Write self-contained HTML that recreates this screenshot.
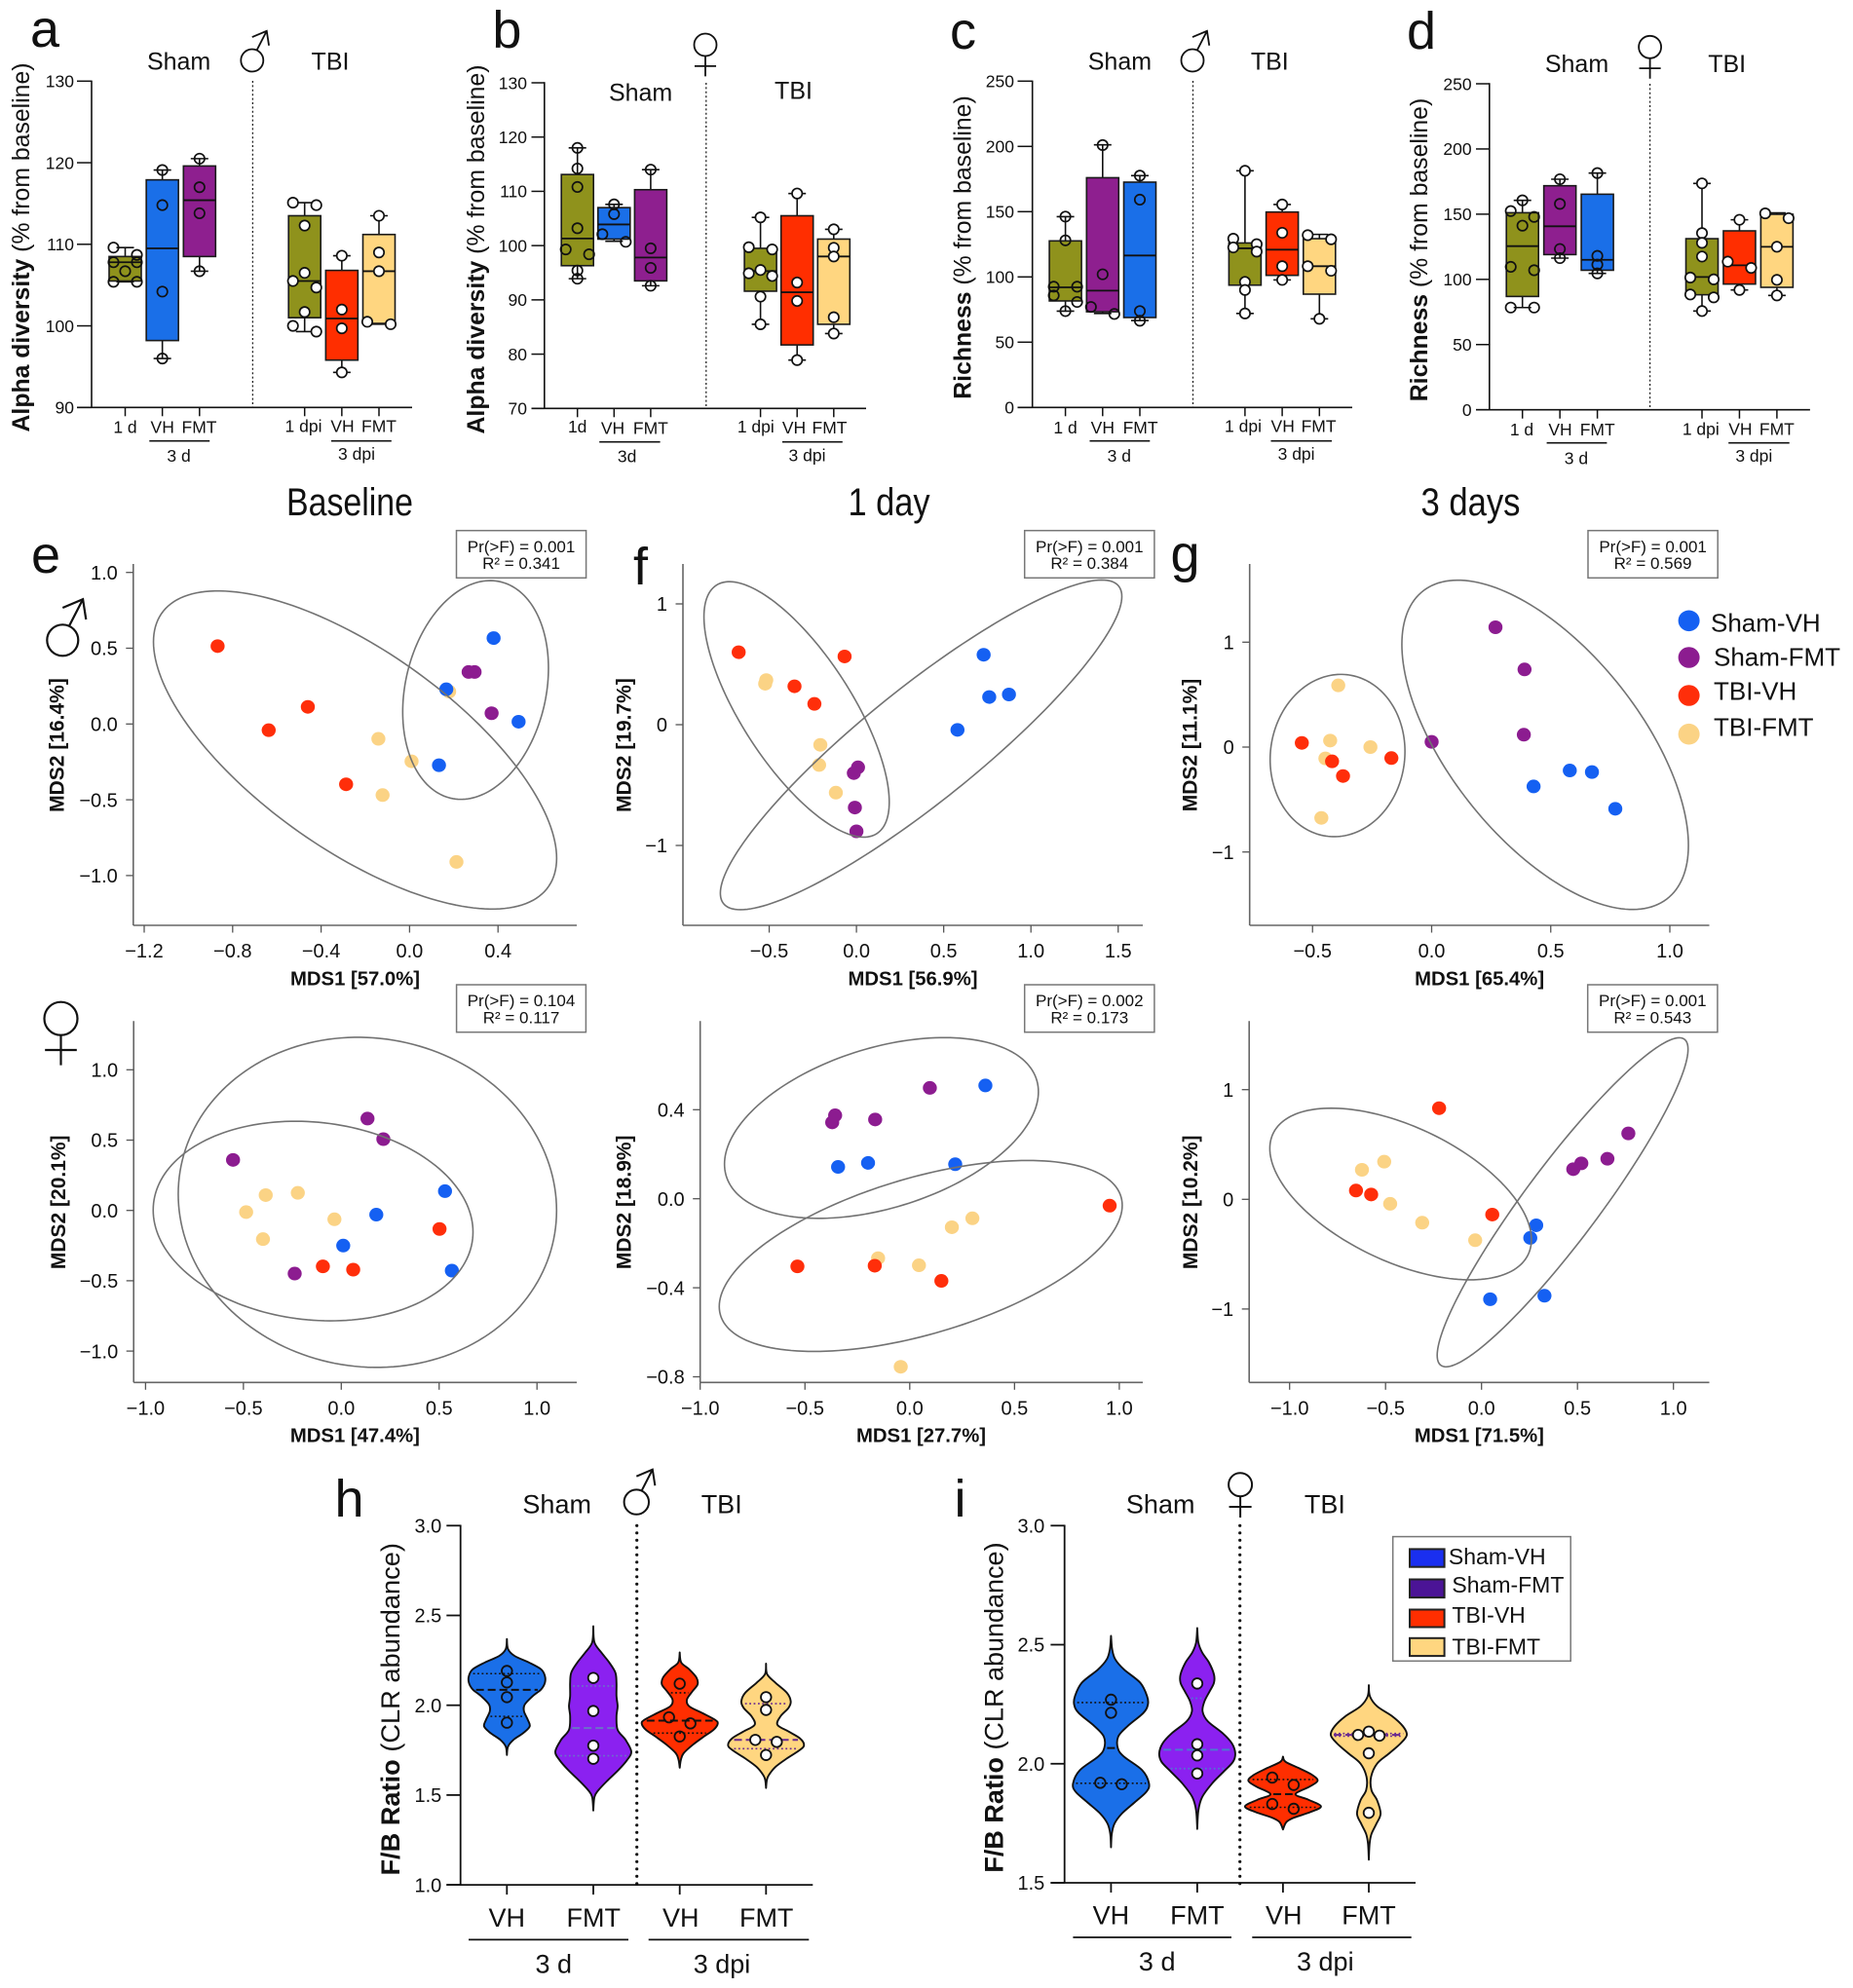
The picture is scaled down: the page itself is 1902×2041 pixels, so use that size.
<!DOCTYPE html>
<html lang="en">
<head>
<meta charset="utf-8">
<title>Alpha diversity, richness, ordination and F/B ratio panels</title>
<style>
html,body{margin:0;padding:0;background:#fff;}
svg{display:block;font-family:"Liberation Sans",sans-serif;}
</style>
</head>
<body>
<svg id="figure" xmlns="http://www.w3.org/2000/svg" width="1902" height="2041" viewBox="0 0 1902 2041"></svg>
<script>
/* ---------- panel a : alpha diversity, male ---------- */
const aCategories=['1 d','VH','FMT','1 dpi','VH','FMT'];
const aTicks=[90,100,110,120,130];
const aQ3=[108.5,117.9,119.6,113.5,106.8,111.2];
const aQ1=[105.5,98.2,108.5,101,95.8,100.3];
const aMedian=[107.8,109.5,115.4,105.5,100.9,106.7];
const aHigh=[109.6,119.1,120.5,115.1,108.6,113.5];
const aLow=[105.4,96,106.7,99.3,94.3,100.2];
const aPoints=[[109.6,108.7,107.8,107.8,106.7,105.4,105.4],[119.1,114.8,104.2,96],[120.5,117,113.8,106.7],[115.1,114.8,112.3,106.5,105.5,104.7,101.7,100,99.3],[108.6,102,99.7,94.3],[113.5,109,106.7,100.5,100.2]];
/* ---------- panel b : alpha diversity, female ---------- */
const bCategories=['1d','VH','FMT','1 dpi','VH','FMT'];
const bTicks=[70,80,90,100,110,120,130];
const bQ3=[113.1,107,110.3,99.5,105.5,101.2];
const bQ1=[96.3,101.2,93.5,91.6,81.7,85.5];
const bMedian=[101.3,103.9,97.8,95.3,91.4,98];
const bHigh=[118,107.6,114,105.2,109.6,103];
const bLow=[93.9,100.8,92.6,85.5,78.9,83.8];
const bPoints=[[118,114.2,110.8,103.2,99.3,98.4,95.4,93.9],[107.6,105.8,102.1,100.7],[114,99.5,95.9,92.6],[105.2,99.7,99.3,95.5,94.9,94.4,90.6,85.5],[109.6,93.2,89.8,78.9],[103,99.6,98,86.8,83.8]];
/* ---------- panel c : richness, male ---------- */
const cCategories=['1 d','VH','FMT','1 dpi','VH','FMT'];
const cTicks=[0,50,100,150,200,250];
const cQ3=[127.6,176,172.6,126,149.7,129.3];
const cQ1=[81.6,73.3,68.9,93.7,101.2,86.8];
const cMedian=[92,89.5,116.4,121.9,120.9,108.2];
const cHigh=[146.2,201.2,177.6,181.3,155.5,132.6];
const cLow=[73.8,72,66.6,72,97.7,67.9];
const cPoints=[[146.2,128,92.5,92.5,85.8,80.8,73.8],[201,102,77,71.6],[177.6,159.2,73.8,66.4],[181.3,129.3,125.1,122.6,119.4,96.2,90,72],[155.5,133.8,108.2,97.7],[132,128.8,108.2,104.7,67.9]];
/* ---------- panel d : richness, female ---------- */
const dCategories=['1 d','VH','FMT','1 dpi','VH','FMT'];
const dTicks=[0,50,100,150,200,250];
const dQ3=[151.1,171.8,165.3,131.2,137.2,149.9];
const dQ1=[86.9,119,107,88.2,96.4,93.9];
const dMedian=[125.5,140.7,115,101.8,110.8,125];
const dHigh=[160.6,176.8,181.5,173.6,145.7,151];
const dLow=[78.4,116.3,104.6,75.7,91.9,87.7];
const dPoints=[[160.6,152.4,147.9,141.2,109.6,107,78.4,78.4],[176.8,157.9,123.3,116.3],[181.5,118,111.3,104.6],[173.6,135.5,128,117.5,101.4,100,88.4,86.2,75.7],[145.7,113.6,108.8,91.9],[150.6,146.9,125,99.6,87.7]];

/* ---------- ordination panels : points are [MDS1, MDS2] ---------- */
const eXTicks=['−1.2','−0.8','−0.4','0.0','0.4'];
const eYTicks=['−1.0','−0.5','0.0','0.5','1.0'];
const eShamVH=[[.38,.567],[.166,.229],[.493,.015],[.133,-.272]];
const eShamFMT=[[.267,.343],[.294,.343],[.371,.071]];
const eTbiVH=[[-.868,.514],[-.46,.113],[-.637,-.041],[-.287,-.398]];
const eTbiFMT=[[-.141,-.098],[.009,-.246],[-.122,-.469],[.212,-.91],[.179,.214]];
const eEllipses=[[-1.158,.665,-1.221,.878,-.68],[-.031,.628,-.497,.946,.2]];

const fXTicks=['−0.5','0.0','0.5','1.0','1.5'];
const fYTicks=['−1','0','1'];
const fShamVH=[[.729,.579],[.761,.229],[.874,.25],[.579,-.043]];
const fShamFMT=[[.009,-.353],[-.015,-.401],[-.009,-.686],[0,-.883]];
const fTbiVH=[[-.675,.6],[-.068,.565],[-.355,.318],[-.241,.172]];
const fTbiFMT=[[-.517,.369],[-.523,.339],[-.207,-.167],[-.214,-.334],[-.118,-.563]];
const fEllipses=[[-.874,.188,-.931,1.184,-.725],[-.78,1.521,-1.532,1.198,.9]];

const gXTicks=['−0.5','0.0','0.5','1.0'];
const gYTicks=['−1','0','1'];
const gShamVH=[[.58,-.223],[.673,-.238],[.428,-.375],[.771,-.588]];
const gShamFMT=[[.268,1.142],[.39,.74],[.387,.118],[0,.05]];
const gTbiVH=[[-.545,.04],[-.418,-.136],[-.372,-.276],[-.169,-.105]];
const gTbiFMT=[[-.392,.588],[-.426,.062],[-.446,-.108],[-.257,0],[-.463,-.675]];
const gEllipses=[[-.678,-.112,-.854,.693,.05],[-.125,1.078,-1.548,1.591,-.61]];

const e2XTicks=['−1.0','−0.5','0.0','0.5','1.0'];
const e2YTicks=['−1.0','−0.5','0.0','0.5','1.0'];
const e2ShamVH=[[.53,.137],[.179,-.03],[.01,-.25],[.565,-.428]];
const e2ShamFMT=[[.134,.653],[.215,.507],[-.553,.359],[-.238,-.449]];
const e2TbiVH=[[.502,-.132],[-.094,-.398],[.061,-.421]];
const e2TbiFMT=[[-.386,.109],[-.222,.125],[-.486,-.012],[-.035,-.063],[-.4,-.204]];
const e2Ellipses=[[-.833,1.1,-1.116,1.231,-.05],[-.961,.673,-.785,.634,-.11]];

const f2XTicks=['−1.0','−0.5','0.0','0.5','1.0'];
const f2YTicks=['−0.8','−0.4','0.0','0.4'];
const f2ShamVH=[[.361,.509],[-.199,.161],[-.342,.143],[.217,.155]];
const f2ShamFMT=[[.096,.498],[-.356,.375],[-.37,.343],[-.165,.356]];
const f2TbiVH=[[.954,-.031],[-.536,-.304],[-.167,-.301],[.151,-.369]];
const f2TbiFMT=[[.299,-.088],[.201,-.128],[-.151,-.267],[.044,-.299],[-.043,-.755]];
const f2Ellipses=[[-.884,.614,-.088,.724,.4],[-.909,1.014,-.686,.172,.53]];

const g2XTicks=['−1.0','−0.5','0.0','0.5','1.0'];
const g2YTicks=['−1','0','1'];
const g2ShamVH=[[.285,-.237],[.254,-.352],[.045,-.911],[.328,-.879]];
const g2ShamFMT=[[.765,.601],[.656,.37],[.52,.328],[.478,.275]];
const g2TbiVH=[[-.221,.831],[-.654,.08],[-.575,.044],[.056,-.139]];
const g2TbiFMT=[[-.507,.343],[-.623,.269],[-.476,-.041],[-.309,-.213],[-.033,-.373]];
const g2Ellipses=[[-1.103,.26,-.734,.831,-.53],[-.231,1.076,-1.527,1.473,.93]];

/* ---------- panel h : violins ---------- */
const hCategories=['VH','FMT','VH','FMT'];
const hTicks=['1.0','1.5','2.0','2.5','3.0'];
const hLevels=[
 [2.369,2.313,2.275,2.238,2.2,2.163,2.125,2.088,2.051,2.004,1.966,1.919,1.882,1.845,1.807,1.77,1.723],
 [2.44,2.35,2.294,2.238,2.182,2.125,2.051,1.994,1.938,1.863,1.807,1.742,1.695,1.639,1.582,1.526,1.489,1.414],
 [2.294,2.238,2.2,2.154,2.116,2.079,2.032,1.994,1.957,1.919,1.897,1.863,1.826,1.779,1.732,1.695,1.652],
 [2.232,2.172,2.125,2.069,2.022,1.985,1.938,1.891,1.854,1.816,1.779,1.751,1.704,1.657,1.61,1.582,1.539]];
const hDensity=[
 [0,.03,.2,.58,.9,1,1,.9,.68,.47,.45,.55,.6,.43,.17,.03,0],
 [0,.03,.21,.42,.58,.61,.61,.64,.61,.64,.85,1,.89,.66,.38,.13,.03,0],
 [0,.04,.25,.44,.47,.34,.19,.25,.59,.93,1,.89,.64,.34,.1,.03,0],
 [0,.03,.25,.55,.65,.59,.38,.3,.59,.89,1,.89,.55,.25,.07,.02,0]];
const hMedian=[2.086,1.873,1.914,1.807];
const hQuartiles=[[2.176,1.938],[2.107,1.719],[2.069,1.845],[2.009,1.758]];
const hPoints=[[2.191,2.127,2.045,1.903],[2.152,1.968,1.775,1.702],[2.12,1.933,1.899,1.826],[2.045,1.974,1.807,1.796,1.723]];

/* ---------- panel i : violins ---------- */
const iCategories=['VH','FMT','VH','FMT'];
const iTicks=['1.5','2.0','2.5','3.0'];
const iLevels=[
 [2.537,2.481,2.439,2.396,2.34,2.283,2.248,2.213,2.157,2.114,2.065,2.03,1.973,1.917,1.882,1.839,1.79,1.748,1.705,1.649],
 [2.57,2.509,2.467,2.425,2.375,2.34,2.305,2.262,2.22,2.178,2.128,2.086,2.044,2.008,1.966,1.917,1.86,1.804,1.726],
 [2.03,2.008,1.98,1.952,1.928,1.903,1.872,1.849,1.821,1.797,1.773,1.755,1.724],
 [2.33,2.283,2.241,2.199,2.157,2.121,2.086,2.044,2.001,1.945,1.889,1.846,1.79,1.748,1.705,1.663,1.597]];
const iDensity=[
 [0,.03,.11,.34,.77,.95,.97,.85,.43,.19,.18,.34,.82,1,.93,.63,.28,.09,.02,0],
 [0,.03,.13,.31,.44,.44,.33,.19,.14,.28,.67,.91,1,.94,.69,.39,.13,.03,0],
 [0,.07,.44,.78,.91,.69,.33,.67,1,.72,.28,.09,0],
 [0,.03,.22,.62,.9,1,.84,.54,.22,.06,.07,.22,.31,.2,.07,.02,0]];
const iMedian=[2.066,2.059,1.872,2.121];
const iQuartiles=[[2.257,1.918],[2.275,1.98],[1.934,1.817],[2.127,2.116]];
const iPoints=[[2.269,2.214,1.92,1.914],[2.337,2.082,2.035,1.959],[1.942,1.911,1.831,1.811],[2.135,2.121,2.118,2.044,1.794]];

const legendNames=['Sham-VH','Sham-FMT','TBI-VH','TBI-FMT'];

/* ---------- helpers ---------- */
const NS='http://www.w3.org/2000/svg';
const root=document.getElementById('figure');
const OLIVE='#8f921c',BLUE='#1a6fe8',PURPLE='#8e1f8f',RED='#ff2e00',YELLOW='#ffd680',INK='#111';
function linear(v0,p0,v1,p1){const k=(p1-p0)/(v1-v0);return v=>p0+(v-v0)*k;}
function toNumber(label){return parseFloat(String(label).replace('−','-'));}
function mk(parent,tag,name,attrs){
  const e=document.createElementNS(NS,tag);
  for(const k in attrs)e.setAttribute(k,attrs[k]);
  
  
  parent.appendChild(e);
  return e;
}
function line(parent,name,x1,y1,x2,y2,stroke,w,extra){
  return mk(parent,'line',name,Object.assign({x1,y1,x2,y2,stroke,'stroke-width':w},extra||{}));
}
/* y is the vertical centre of capitals unless opts.base is set */
function text(parent,name,x,y,s,fs,opts){
  opts=opts||{};
  const by=opts.base?y:y+fs*.358;
  const a={x,y:by,'font-size':fs,'text-anchor':opts.anchor||'middle',fill:opts.fill||'#111'};
  if(opts.bold)a['font-weight']='bold';
  if(opts.len){a.textLength=opts.len;a.lengthAdjust='spacingAndGlyphs';}
  const t=mk(parent,'text',name,a);
  t.textContent=s;
  return t;
}
function rotatedLabel(parent,name,cx,cy,bold,rest,fs){
  const t=mk(parent,'text',name,{transform:`translate(${cx} ${cy}) rotate(-90)`,'text-anchor':'middle','font-size':fs,fill:'#111',y:fs*.358});
  const b=mk(t,'tspan',name+'-bold-part',{'font-weight':'bold'});
  b.textContent=bold;
  const r=mk(t,'tspan',name+'-regular-part',{});
  r.textContent=rest;
  return t;
}
function male(parent,name,cx,cy,r,w){
  const g=mk(parent,'g',name,{fill:'none',stroke:'#111','stroke-width':w||1.8,'stroke-linejoin':'miter'});
  mk(g,'circle',name+'-ring',{cx,cy,r,fill:'#fff'});
  mk(g,'path',name+'-arrow',{d:`M${cx+.42*r} ${cy-.92*r}L${cx+1.3*r} ${cy-2.63*r}M${cx} ${cy-2.08*r}L${cx+1.3*r} ${cy-2.63*r}L${cx+1.5*r} ${cy-1.33*r}`});
}
function female(parent,name,cx,cy,r,w){
  const g=mk(parent,'g',name,{fill:'none',stroke:'#111','stroke-width':w||1.8});
  mk(g,'circle',name+'-ring',{cx,cy,r,fill:'#fff'});
  mk(g,'path',name+'-cross',{d:`M${cx} ${cy+r}V${cy+2.82*r}M${cx-.96*r} ${cy+1.9*r}H${cx+.96*r}`});
}
/* spreads nearly-equal values sideways so that circles do not overlap */
function swarm(values,y,gap,spread){
  const sorted=values.slice().sort((p,q)=>q-p),out=[];
  let run=[];
  const flush=()=>{
    const odd=run.length%2===1;
    run.forEach((v,i)=>{
      let dx=0;
      if(run.length>1){
        const j=odd?i-1:i;
        dx=odd&&i===0?0:(j%2===0?-spread:spread);
      }
      out.push({v,dx});
    });
    run=[];
  };
  sorted.forEach(v=>{
    if(run.length&&Math.abs(y(v)-y(run[run.length-1]))>=gap)flush();
    run.push(v);
  });
  flush();
  return out;
}
function catmull(pts){
  let d='';
  for(let i=0;i<pts.length-1;i++){
    const p0=pts[Math.max(i-1,0)],p1=pts[i],p2=pts[i+1],p3=pts[Math.min(i+2,pts.length-1)];
    const c1=[p1[0]+(p2[0]-p0[0])/6,p1[1]+(p2[1]-p0[1])/6];
    const c2=[p2[0]-(p3[0]-p1[0])/6,p2[1]-(p3[1]-p1[1])/6];
    d+=`C${c1[0].toFixed(2)} ${c1[1].toFixed(2)} ${c2[0].toFixed(2)} ${c2[1].toFixed(2)} ${p2[0].toFixed(2)} ${p2[1].toFixed(2)}`;
  }
  return d;
}

/* ---------- box plot panels ---------- */
function drawBoxPanel(c,d){
  const g=mk(root,'g','panel-'+c.id,{});
  const y=linear(c.yMin,c.yBot,c.yMax,c.yTop);
  const x=i=>i<3?c.x0+c.step*i:c.x1+c.step*(i-3);
  text(g,'panel-letter-'+c.id,c.letter[0],c.letter[1],c.id,54,{anchor:'start',base:true});
  rotatedLabel(g,'y-axis-title-'+c.id,c.yl[0],c.yl[1],c.yBold,' (% from baseline)',24.8);
  line(g,'y-axis-'+c.id,c.axisX,c.yTop-.7,c.axisX,c.yBot,INK,1.6);
  line(g,'x-axis-'+c.id,c.tickL,c.yBot,c.right,c.yBot,INK,1.6);
  d.ticks.forEach(t=>{
    line(g,'y-tick-'+t,c.tickL,y(t),c.axisX,y(t),INK,1.5);
    text(g,'y-tick-label-'+t,c.labR,y(t),String(t),17.5,{anchor:'end'});
  });
  line(g,'sham-tbi-divider-'+c.id,c.dashX,c.dashTop,c.dashX,c.yBot,'#222',1.3,{'stroke-dasharray':'2 2.4'});
  text(g,'sham-header-'+c.id,c.sham[0],c.sham[1],'Sham',25,{base:true});
  text(g,'tbi-header-'+c.id,c.tbi[0],c.tbi[1],'TBI',25,{base:true});
  d.categories.forEach((cat,i)=>{
    const cx=x(i),bw=33,isTbi=i>2;
    line(g,'x-tick-'+cat,cx,c.yBot,cx,c.yBot+9,INK,1.5);
    text(g,'x-label-'+cat,c.labels[i][0],c.labels[i][1],cat,17.5);
    const box=mk(g,'g','box-'+cat+(isTbi?'-tbi':'-sham'),{});
    line(box,'whisker',cx,y(d.high[i]),cx,y(d.low[i]),INK,1.6);
    line(box,'whisker-cap-high',cx-9,y(d.high[i]),cx+9,y(d.high[i]),INK,1.6);
    line(box,'whisker-cap-low',cx-9,y(d.low[i]),cx+9,y(d.low[i]),INK,1.6);
    mk(box,'rect','box-body',{x:cx-bw/2,y:y(d.q3[i]),width:bw,height:y(d.q1[i])-y(d.q3[i]),fill:c.fills[i],stroke:'#1a1a1a','stroke-width':1.6});
    line(box,'median-line',cx-bw/2,y(d.median[i]),cx+bw/2,y(d.median[i]),INK,1.8);
    swarm(d.points[i],y,8,12).forEach(p=>{
      mk(box,'circle','data-point',{cx:cx+p.dx,cy:y(p.v),r:5.2,fill:isTbi?'#fff':'none',stroke:INK,'stroke-width':1.7});
    });
  });
  c.rules.forEach((r,i)=>line(g,'timepoint-rule-'+i,r[0],r[2],r[1],r[2],INK,1.6));
  c.groups.forEach((t,i)=>text(g,'timepoint-label-'+i,t[0],t[1],t[2],17.5));
}

drawBoxPanel({id:'a',letter:[31,48],yBold:'Alpha diversity',yl:[21,254],axisX:94,yTop:83.3,yBot:418.3,right:423,tickL:79,labR:76,yMin:90,yMax:130,x0:128.5,step:38.15,x1:312.7,dashX:259.4,dashTop:83,sham:[183.6,71.7],tbi:[339,71.7],
 fills:[OLIVE,BLUE,PURPLE,OLIVE,RED,YELLOW],
 labels:[[128.5,438],[166.7,438],[204.5,438],[311.5,437.3],[351.5,437.3],[389,437.3]],
 rules:[[153.3,215.2,452.7],[340,401.8,452.7]],groups:[[183.6,467.7,'3 d'],[366,465.7,'3 dpi']]},
 {categories:aCategories,ticks:aTicks,q3:aQ3,q1:aQ1,median:aMedian,high:aHigh,low:aLow,points:aPoints});
drawBoxPanel({id:'b',letter:[505.4,49],yBold:'Alpha diversity',yl:[488,256],axisX:558.8,yTop:85,yBot:419.3,right:889,tickL:545.5,labR:541,yMin:70,yMax:130,x0:592.7,step:37.6,x1:780.6,dashX:724.8,dashTop:85,sham:[657.6,103.3],tbi:[814.5,101.7],
 fills:[OLIVE,BLUE,PURPLE,OLIVE,RED,YELLOW],
 labels:[[592.7,437.7],[629,439.3],[667.9,439.3],[775.8,437.7],[815,438.7],[851.5,438.7]],
 rules:[[615.2,677.6,453.7],[803,864.8,453.7]],groups:[[643.6,468.3,'3d'],[828.5,467.3,'3 dpi']]},
 {categories:bCategories,ticks:bTicks,q3:bQ3,q1:bQ1,median:bMedian,high:bHigh,low:bLow,points:bPoints});
drawBoxPanel({id:'c',letter:[975,50],yBold:'Richness',yl:[987.6,254],axisX:1059.7,yTop:83.3,yBot:418.3,right:1388,tickL:1044.5,labR:1041,yMin:0,yMax:250,x0:1093.6,step:38.2,x1:1277.9,dashX:1224.5,dashTop:83,sham:[1149.4,71.7],tbi:[1303.3,71.7],
 fills:[OLIVE,PURPLE,BLUE,OLIVE,RED,YELLOW],
 labels:[[1093.6,438.7],[1131.8,438.7],[1170.6,438.7],[1276,437.3],[1316.7,437.3],[1353.6,437.3]],
 rules:[[1118.5,1180.3,452.7],[1304.5,1367,452.7]],groups:[[1148.8,467.7,'3 d'],[1330.6,465.7,'3 dpi']]},
 {categories:cCategories,ticks:cTicks,q3:cQ3,q1:cQ1,median:cMedian,high:cHigh,low:cLow,points:cPoints});
drawBoxPanel({id:'d',letter:[1444,50],yBold:'Richness',yl:[1456,256.5],axisX:1528.8,yTop:86,yBot:420.7,right:1857.9,tickL:1515,labR:1510.6,yMin:0,yMax:250,x0:1562.7,step:38.45,x1:1747,dashX:1693.6,dashTop:86,sham:[1618.5,74],tbi:[1772.7,74],
 fills:[OLIVE,PURPLE,BLUE,OLIVE,RED,YELLOW],
 labels:[[1562,440.7],[1601.5,440.7],[1639.7,440.7],[1745.8,440],[1786.4,440],[1823.9,440]],
 rules:[[1587.6,1649.4,454.7],[1774.2,1836.7,454.7]],groups:[[1617.9,470,'3 d'],[1800.3,467.7,'3 dpi']]},
 {categories:dCategories,ticks:dTicks,q3:dQ3,q1:dQ1,median:dMedian,high:dHigh,low:dLow,points:dPoints});
male(root,'male-symbol-a',258.8,62,11.5);
female(root,'female-symbol-b',724,46,11.5);
male(root,'male-symbol-c',1224,62,11.5);
female(root,'female-symbol-d',1693.6,48.3,11.5);

/* ---------- ordination panels ---------- */
const SCATTER={vh:'#1560f2',fmt:'#8c1c90',tvh:'#ff2e0a',tfmt:'#fbd385'};
function ellipsePath(el,x,y){
  const cx=(el[0]+el[1])/2,rx=(el[1]-el[0])/2,cy=(el[2]+el[3])/2,ry=(el[3]-el[2])/2,delta=Math.acos(el[4]);
  let d='';
  for(let i=0;i<=180;i++){
    const t=i/180*2*Math.PI;
    d+=(i?'L':'M')+x(cx+rx*Math.cos(t)).toFixed(2)+' '+y(cy+ry*Math.cos(t-delta)).toFixed(2);
  }
  return d+'Z';
}
function drawScatter(c,d){
  const g=mk(root,'g','ordination-panel-'+c.id,{});
  const x=linear(c.xs[0],c.xs[1],c.xs[2],c.xs[3]),y=linear(c.ys[0],c.ys[1],c.ys[2],c.ys[3]);
  line(g,'y-axis-'+c.id,c.left,c.top,c.left,c.bottom,'#666',1.6);
  line(g,'x-axis-'+c.id,c.left,c.bottom,c.right,c.bottom,'#666',1.6);
  d.xTicks.forEach(l=>{
    const v=toNumber(l);
    line(g,'x-tick-'+l,x(v),c.bottom,x(v),c.bottom+7.5,'#555',1.3);
    text(g,'x-tick-label-'+l,x(v),c.bottom+26,l,20);
  });
  d.yTicks.forEach(l=>{
    const v=toNumber(l);
    line(g,'y-tick-'+l,c.left-7.5,y(v),c.left,y(v),'#555',1.3);
    text(g,'y-tick-label-'+l,c.left-16,y(v),l,20,{anchor:'end'});
  });
  text(g,'x-axis-title-'+c.id,c.xt[0],c.xt[1],c.xTitle,20.3,{bold:true});
  const yt=mk(g,'text','y-axis-title-'+c.id,{transform:`translate(${c.yt[0]} ${c.yt[1]}) rotate(-90)`,'text-anchor':'middle','font-size':21,'font-weight':'bold',fill:'#111',y:7.5});
  yt.textContent=c.yTitle;
  [['tfmt',d.tfmt],['tvh',d.tvh],['fmt',d.fmt],['vh',d.vh]].forEach(s=>{
    s[1].forEach(p=>{
      mk(g,'ellipse','ordination-point-'+s[0],{cx:x(p[0]),cy:y(p[1]),rx:7.2,ry:7,fill:SCATTER[s[0]]});
    });
  });
  d.ellipses.forEach((e,i)=>{
    mk(g,'path','confidence-ellipse-'+i,{d:ellipsePath(e,x,y),fill:'none',stroke:'#727272','stroke-width':1.6});
  });
  const b=c.box;
  mk(g,'rect','stat-box-'+c.id,{x:b[0],y:b[1],width:b[2]-b[0],height:b[3]-b[1],fill:'none',stroke:'#777','stroke-width':1.5});
  text(g,'permanova-p-value-'+c.id,(b[0]+b[2])/2,b[1]+16,c.p,17);
  text(g,'permanova-r-squared-'+c.id,(b[0]+b[2])/2,b[1]+33.4,c.r,17);
}
drawScatter({id:'e',left:136.8,right:592,top:579,bottom:950,xs:[0,420.4,.4,511.2],ys:[0,743.3,1,587.7],xt:[364.5,1004],yt:[58,765],xTitle:'MDS1 [57.0%]',yTitle:'MDS2 [16.4%]',box:[468.5,544.7,601.6,593.3],p:'Pr(>F) = 0.001',r:'R² = 0.341'},
 {xTicks:eXTicks,yTicks:eYTicks,vh:eShamVH,fmt:eShamFMT,tvh:eTbiVH,tfmt:eTbiFMT,ellipses:eEllipses});
drawScatter({id:'f',left:701,right:1173,top:579,bottom:950,xs:[0,879.1,1,1058.2],ys:[0,744,1,620],xt:[937,1004],yt:[640,765],xTitle:'MDS1 [56.9%]',yTitle:'MDS2 [19.7%]',box:[1051.7,544.7,1184.9,593.3],p:'Pr(>F) = 0.001',r:'R² = 0.384'},
 {xTicks:fXTicks,yTicks:fYTicks,vh:fShamVH,fmt:fShamFMT,tvh:fTbiVH,tfmt:fTbiFMT,ellipses:fEllipses});
drawScatter({id:'g',left:1282.7,right:1754.5,top:579,bottom:950,xs:[0,1469.5,1,1714],ys:[0,767,1,659.3],xt:[1518.6,1004],yt:[1221,765],xTitle:'MDS1 [65.4%]',yTitle:'MDS2 [11.1%]',box:[1630,544.7,1763.2,593.3],p:'Pr(>F) = 0.001',r:'R² = 0.569'},
 {xTicks:gXTicks,yTicks:gYTicks,vh:gShamVH,fmt:gShamFMT,tvh:gTbiVH,tfmt:gTbiFMT,ellipses:gEllipses});
drawScatter({id:'e2',left:137.2,right:592,top:1048.3,bottom:1419.3,xs:[0,350.3,1,551.2],ys:[0,1242.7,1,1098.3],xt:[364.4,1473.3],yt:[59.3,1234.3],xTitle:'MDS1 [47.4%]',yTitle:'MDS2 [20.1%]',box:[468.6,1011,601.4,1059.7],p:'Pr(>F) = 0.104',r:'R² = 0.117'},
 {xTicks:e2XTicks,yTicks:e2YTicks,vh:e2ShamVH,fmt:e2ShamFMT,tvh:e2TbiVH,tfmt:e2TbiFMT,ellipses:e2Ellipses});
drawScatter({id:'f2',left:718.7,right:1173,top:1048.3,bottom:1419.3,xs:[0,933.8,1,1148.9],ys:[0,1230.7,.4,1139.3],xt:[945.5,1473.3],yt:[640,1234.3],xTitle:'MDS1 [27.7%]',yTitle:'MDS2 [18.9%]',box:[1051.7,1011,1184.9,1059.7],p:'Pr(>F) = 0.002',r:'R² = 0.173'},
 {xTicks:f2XTicks,yTicks:f2YTicks,vh:f2ShamVH,fmt:f2ShamFMT,tvh:f2TbiVH,tfmt:f2TbiFMT,ellipses:f2Ellipses});
drawScatter({id:'g2',left:1282.2,right:1754.5,top:1048.3,bottom:1419.3,xs:[0,1520.7,1,1717.7],ys:[0,1231.3,1,1118.7],xt:[1518.4,1473.3],yt:[1221.4,1234.3],xTitle:'MDS1 [71.5%]',yTitle:'MDS2 [10.2%]',box:[1629.7,1011,1762.9,1059.7],p:'Pr(>F) = 0.001',r:'R² = 0.543'},
 {xTicks:g2XTicks,yTicks:g2YTicks,vh:g2ShamVH,fmt:g2ShamFMT,tvh:g2TbiVH,tfmt:g2TbiFMT,ellipses:g2Ellipses});

/* titles, letters, sex symbols and legend of the ordination block */
text(root,'column-title-baseline',359,529,'Baseline',40,{base:true,len:130});
text(root,'column-title-1-day',912.5,529,'1 day',40,{base:true,len:84});
text(root,'column-title-3-days',1509.5,529,'3 days',40,{base:true,len:102});
text(root,'panel-letter-e',32,588,'e',54,{anchor:'start',base:true});
text(root,'panel-letter-f',650,600,'f',54,{anchor:'start',base:true});
text(root,'panel-letter-g',1201.5,587,'g',54,{anchor:'start',base:true});
male(root,'male-row-symbol',64.3,657.3,16,2.2);
female(root,'female-row-symbol',62.5,1045.7,17,2.2);
const scatterLegend=mk(root,'g','ordination-legend',{});
const scatterLegendColors=[SCATTER.vh,SCATTER.fmt,SCATTER.tvh,SCATTER.tfmt];
const scatterLegendLayout=[[637.3,639,1756],[675,674,1759],[714,709,1759],[753.7,746,1759]];
legendNames.forEach((n,i)=>{
  const l=scatterLegendLayout[i];
  mk(scatterLegend,'ellipse','legend-marker-'+n,{cx:1733.6,cy:l[0],rx:11,ry:10.8,fill:scatterLegendColors[i]});
  text(scatterLegend,'legend-label-'+n,l[2],l[1],n,26,{anchor:'start'});
});

/* ---------- violin panels ---------- */
function interp(levels,dens,v){
  for(let i=0;i<levels.length-1;i++){
    if(v<=levels[i]&&v>=levels[i+1]){
      const f=(levels[i]-v)/(levels[i]-levels[i+1]);
      return dens[i]+(dens[i+1]-dens[i])*f;
    }
  }
  return 0;
}
function drawViolinPanel(c,d){
  const g=mk(root,'g','panel-'+c.id,{});
  const y=linear(c.yMin,c.yBot,3,c.yTop);
  text(g,'panel-letter-'+c.id,c.letter[0],1556.9,c.id,54,{anchor:'start',base:true});
  rotatedLabel(g,'y-axis-title-'+c.id,c.yl[0],c.yl[1],'F/B Ratio',' (CLR abundance)',c.ylFs);
  line(g,'y-axis-'+c.id,c.axisX,c.yTop-.8,c.axisX,c.yBot,INK,1.8);
  line(g,'x-axis-'+c.id,c.tickL,c.yBot,c.right,c.yBot,INK,1.8);
  d.ticks.forEach(l=>{
    const v=toNumber(l);
    line(g,'y-tick-'+l,c.tickL,y(v),c.axisX,y(v),INK,1.8);
    text(g,'y-tick-label-'+l,c.labR,y(v),l,20,{anchor:'end'});
  });
  line(g,'sham-tbi-divider-'+c.id,c.sepX,c.yTop,c.sepX,c.sepBot,'#111',3.2,{'stroke-dasharray':'0 7.5','stroke-linecap':'round'});
  text(g,'sham-header-'+c.id,c.sham,1553.5,'Sham',27,{base:true});
  text(g,'tbi-header-'+c.id,c.tbi,1553.5,'TBI',27,{base:true});
  d.categories.forEach((cat,i)=>{
    const cx=c.xs[i],v=mk(g,'g','violin-'+cat+'-'+i,{});
    line(g,'x-tick-'+cat,cx,c.yBot,cx,c.yBot+10,INK,1.8);
    text(g,'x-label-'+cat,c.labels[i],c.labelY,cat,27);
    const right=d.levels[i].map((l,k)=>[cx+d.density[i][k]*39,y(l)]);
    const left=d.levels[i].map((l,k)=>[cx-d.density[i][k]*39,y(l)]).reverse();
    mk(v,'path','violin-body',{d:`M${right[0][0]} ${right[0][1]}`+catmull(right)+catmull(left)+'Z',fill:c.fills[i],stroke:INK,'stroke-width':1.9,'stroke-linejoin':'round'});
    const mw=interp(d.levels[i],d.density[i],d.median[i])*39-3;
    line(v,'median-line',cx-mw,y(d.median[i]),cx+mw,y(d.median[i]),c.lines[i],2,{'stroke-dasharray':'8 4'});
    d.quartiles[i].forEach(q=>{
      const qw=interp(d.levels[i],d.density[i],q)*39-3;
      line(v,'quartile-line',cx-qw,y(q),cx+qw,y(q),c.lines[i],1.6,{'stroke-dasharray':'1.8 2.6'});
    });
    swarm(d.points[i],y,11,11).forEach(p=>{
      mk(v,'circle','data-point',{cx:cx+p.dx,cy:y(p.v),r:5.3,fill:i%2===1?'#fff':'none',stroke:INK,'stroke-width':1.8});
    });
  });
  c.rules.forEach((r,i)=>line(g,'timepoint-rule-'+i,r[0],c.ruleY,r[1],c.ruleY,INK,1.8));
  text(g,'timepoint-label-3d',c.groups[0],c.groupY,'3 d',27);
  text(g,'timepoint-label-3dpi',c.groups[1],c.groupY,'3 dpi',27);
}
drawViolinPanel({id:'h',letter:[343.5],yl:[400,1754.8],ylFs:27.2,axisX:472.7,yTop:1566.3,yBot:1935.1,yMin:1,right:834.3,tickL:458.3,labR:453.3,
 xs:[520.3,609,697.7,786.3],labels:[520.3,609.3,698.7,786.7],labelY:1968.3,sepX:653.7,sepBot:1937.5,sham:571.7,tbi:740.7,
 fills:[BLUE,'#8b21f0',RED,YELLOW],lines:['#111','#6a72c8','#111','#6a2a90'],rules:[[481,645],[665.7,830.3]],ruleY:1991.4,groups:[568.3,741],groupY:2015.9},
 {categories:hCategories,ticks:hTicks,levels:hLevels,density:hDensity,median:hMedian,quartiles:hQuartiles,points:hPoints});
drawViolinPanel({id:'i',letter:[979.5],yl:[1019.9,1753],ylFs:27,axisX:1092.7,yTop:1566.3,yBot:1933,yMin:1.5,right:1453,tickL:1078.4,labR:1072.3,
 xs:[1140.4,1228.9,1316.9,1405],labels:[1140.4,1228.9,1317.8,1405],labelY:1965.8,sepX:1272.7,sepBot:1936.5,sham:1191.2,tbi:1359.9,
 fills:[BLUE,'#8b21f0',RED,YELLOW],lines:['#111','#4c7ad0','#111','#6a2a90'],rules:[[1101.4,1264],[1285.3,1448.7]],ruleY:1989,groups:[1187.7,1360.3],groupY:2013.1},
 {categories:iCategories,ticks:iTicks,levels:iLevels,density:iDensity,median:iMedian,quartiles:iQuartiles,points:iPoints});
male(root,'male-symbol-h',653.3,1542.1,12.7,2);
female(root,'female-symbol-i',1273.1,1524.2,12,2);

/* swatch legend of the violin panels */
const violinLegend=mk(root,'g','violin-legend',{});
mk(violinLegend,'rect','violin-legend-frame',{x:1429.7,y:1577.6,width:182.5,height:127.7,fill:'#fff',stroke:'#777','stroke-width':1.5});
const violinLegendColors=['#1a2ff0','#4b1496','#ff2e00','#ffd680'];
const violinLegendLayout=[[1590.4,18.3,1597.7,1486.9],[1621.5,18.6,1627,1490.4],[1652.5,18,1658,1490.4],[1681.8,18.3,1690.5,1490.4]];
legendNames.forEach((n,i)=>{
  const l=violinLegendLayout[i];
  mk(violinLegend,'rect','violin-legend-swatch-'+n,{x:1447,y:l[0],width:35.6,height:l[1],fill:violinLegendColors[i],stroke:'#222','stroke-width':2});
  text(violinLegend,'violin-legend-label-'+n,l[3],l[2],n,23,{anchor:'start'});
});
</script>
</body>
</html>
